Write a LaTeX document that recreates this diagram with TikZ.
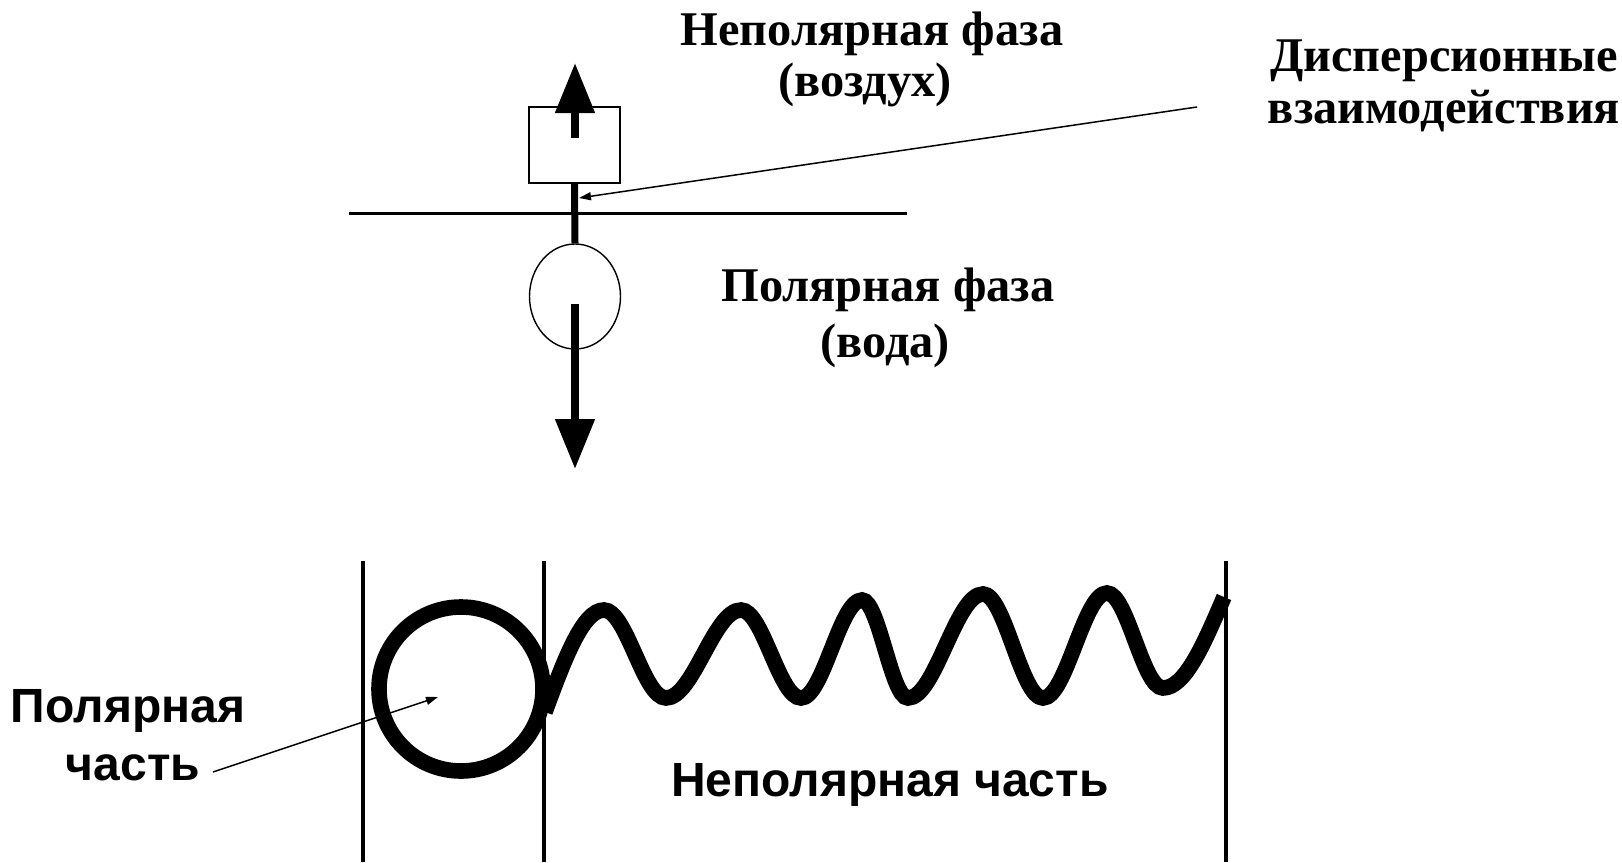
\documentclass[tikz,border=0pt]{standalone}
\usepackage{fontspec}
\setmainfont{Liberation Serif}
\newfontfamily\sansbold{Liberation Sans}
\usetikzlibrary{arrows.meta,shapes.geometric}
\begin{document}
\begin{tikzpicture}[x=0.5pt,y=-0.5pt,
  serifl/.style={font=\fontsize{24.2}{28}\selectfont\bfseries, inner sep=0pt, anchor=base},
  sansl/.style={font=\sansbold\fontsize{24}{28}\selectfont\bfseries, inner sep=0pt, anchor=base},
  thinline/.style={line width=0.7pt},
  bigarrow/.style={line width=4pt, -{Triangle[length=25pt,width=19pt]}},
  stemline/.style={line width=3.5pt},
  pointer/.style={line width=0.75pt, -{Triangle[length=6pt,width=4pt]}},
  wall/.style={line width=1.6pt},
  chain/.style={line width=7.8pt},
]
\useasboundingbox (0,0) rectangle (1622,862);

% --- upper molecule at the interface ---
\node[draw, thinline, rectangle, minimum width=45.5pt, minimum height=38pt, inner sep=0pt] (box) at (574.5,145) {};
\node[draw, thinline, ellipse, minimum width=45.5pt, minimum height=52.5pt, inner sep=0pt] (head) at (575,296.5) {};
\coordinate (upstart) at (575,138);
\coordinate (uptip) at (575,63);
\draw[bigarrow] (upstart) -- (uptip);
\draw[stemline] (box.south) -- (head.north);
\coordinate (surfL) at (349,213.5);
\coordinate (surfR) at (907,213.5);
\draw[line width=1.65pt] (surfL) -- (surfR);
\coordinate (downstart) at (575,304);
\coordinate (downtip) at (575,469);
\draw[bigarrow] (downstart) -- (downtip);

\node[serifl] (np1) at (872,46) {Неполярная фаза};
\node[serifl] (np2) at (865,96) {(воздух)};
\node[serifl] (p1) at (888,301) {Полярная фаза};
\node[serifl] (p2) at (885,357) {(вода)};
\node[serifl] (d1) at (1444,71) {Дисперсионные};
\node[serifl] (d2) at (1444,123) {взаимодействия};
\coordinate (dispstart) at (1197,107);
\coordinate (disptip) at (579,198);
\draw[pointer] (dispstart) -- (disptip);

% --- lower molecule ---
\coordinate (w1t) at (363,561); \coordinate (w1b) at (363,862);
\coordinate (w2t) at (544,561); \coordinate (w2b) at (544,862);
\coordinate (w3t) at (1226,561); \coordinate (w3b) at (1226,862);
\draw[wall] (w1t) -- (w1b);
\draw[wall] (w2t) -- (w2b);
\draw[wall] (w3t) -- (w3b);
\node[draw, circle, chain, minimum size=82pt, inner sep=0pt] (polar) at (461,689) {};
\draw[chain] (545,712) sin (604,610) cos (635,654) sin (666,698)
  cos (703.5,654) sin (741,610) cos (771,654) sin (801,698)
  cos (831.5,649) sin (862,600) cos (885,649) sin (908,698)
  cos (945.5,646) sin (983,594) cos (1013,646) sin (1043,698)
  cos (1075,645.5) sin (1107,593) cos (1135,640.5) sin (1163,688)
  cos (1224,597);

\node[sansl] (pc1) at (128,722) {Полярная};
\node[sansl] (pc2) at (133,780) {часть};
\coordinate (pcstart) at (213,772);
\coordinate (pctip) at (438,697);
\draw[pointer] (pcstart) -- (pctip);
\node[sansl] (npc) at (890,796) {Неполярная часть};
\end{tikzpicture}
\end{document}
